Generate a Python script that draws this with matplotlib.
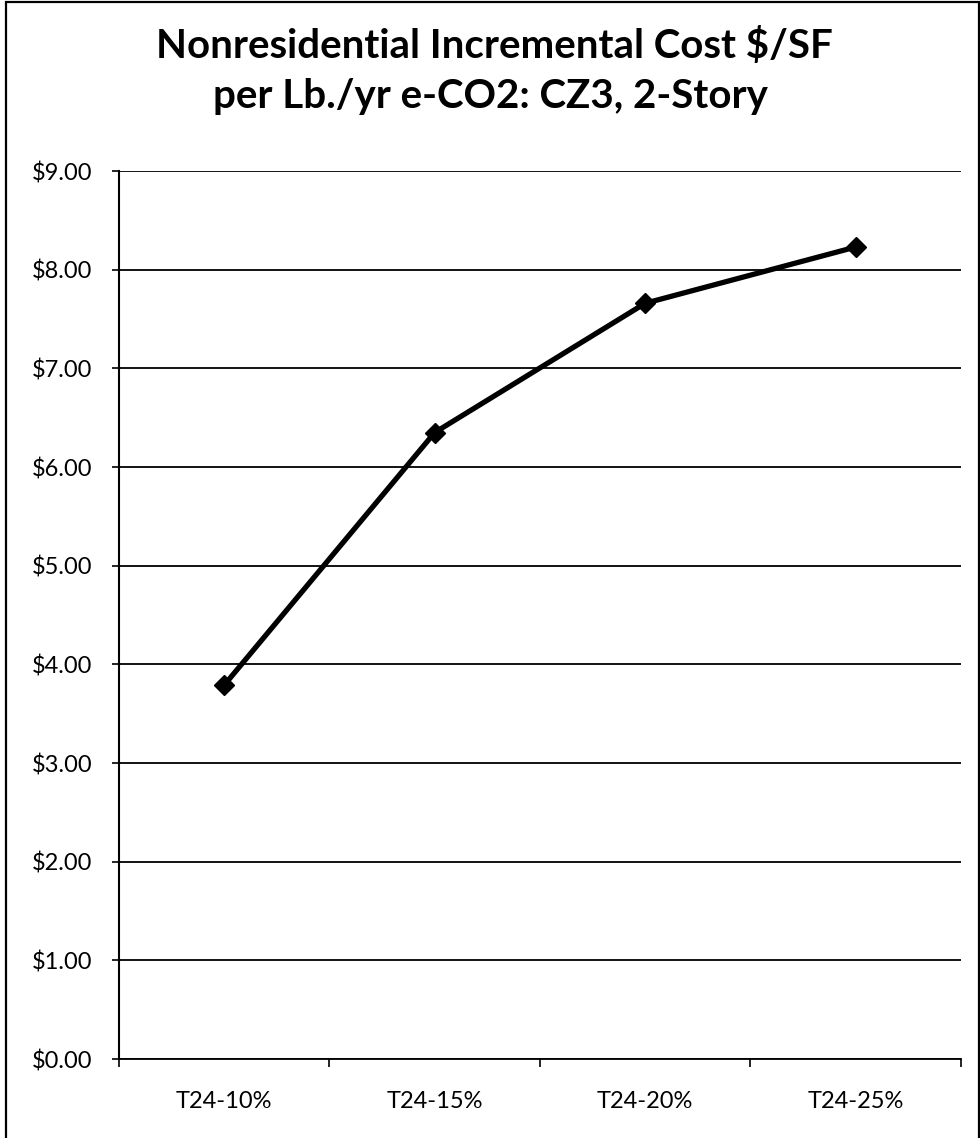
import numpy as np
import matplotlib
matplotlib.use('Agg')
import matplotlib.pyplot as plt
from matplotlib.patches import Rectangle

# Chi phí tăng thêm ($/SF) theo từng mức T24
categories = ['T24-10%', 'T24-15%', 'T24-20%', 'T24-25%']
cost_values = [3.79, 6.35, 7.66, 8.23]
y_ticks = [0, 1, 2, 3, 4, 5, 6, 7, 8, 9]

plt.rcParams['font.family'] = ['Lato', 'DejaVu Sans']

fig = plt.figure(figsize=(9.8, 11.38), dpi=100)
ax = fig.add_axes([0.1214, 0.0694, 0.9806 - 0.1214, 0.8497 - 0.0694])

x = np.arange(len(categories))
ax.plot(x, cost_values, color='black', linewidth=3.8, marker='D', markersize=10.5,
        markerfacecolor='black', markeredgecolor='black', zorder=3)

ax.set_xlim(-0.5, len(categories) - 0.5)
ax.set_ylim(0, 9)

# lưới ngang
ax.set_yticks(y_ticks)
ax.set_yticklabels([f'${v:.2f}' for v in y_ticks], fontsize=17)
ax.yaxis.grid(True, color='black', linewidth=1.3)
ax.set_axisbelow(True)

# vạch chia ở ranh giới các nhóm, nhãn ở giữa
ax.set_xticks(np.arange(-0.5, len(categories)))
ax.set_xticklabels([])
ax.set_xticks(x, minor=True)
ax.set_xticklabels(categories, minor=True, fontsize=17)
ax.tick_params(axis='x', which='major', direction='out', length=6, width=1.2, color='black')
ax.tick_params(axis='x', which='minor', length=0, pad=23)
ax.tick_params(axis='y', direction='out', length=5, width=1.2, pad=14)

ax.spines['top'].set_visible(False)
ax.spines['right'].set_visible(False)
ax.spines['left'].set_linewidth(1.5)
ax.spines['bottom'].set_linewidth(1.3)

fig.text(0.505, 0.960, 'Nonresidential Incremental Cost $/SF', ha='center', va='center',
         fontsize=29, fontweight='bold')
fig.text(0.50, 0.915, 'per Lb./yr e-CO2: CZ3, 2-Story', ha='center', va='center',
         fontsize=29, fontweight='bold')

# khung viền ngoài
fig.patches.append(Rectangle((0.006, -0.01), 0.993, 1.008, transform=fig.transFigure,
                             fill=False, edgecolor='black', linewidth=1.6))

plt.savefig('out.png', dpi=100)
